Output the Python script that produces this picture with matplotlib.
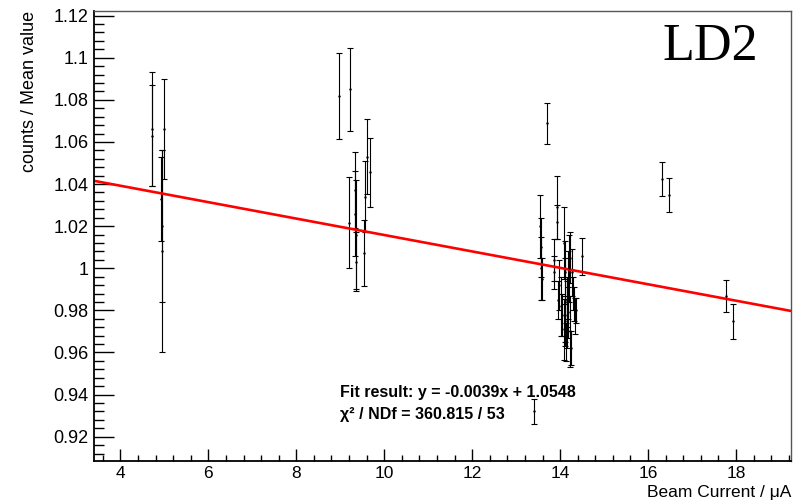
import numpy as np
import matplotlib
matplotlib.use('Agg')
import matplotlib.pyplot as plt
from matplotlib.ticker import MultipleLocator

# beam current (uA), normalised counts and errors
beam_current = [4.72, 4.72, 4.99, 4.94, 4.94, 4.93,
                8.97, 9.23, 9.20, 9.34, 9.36, 9.35, 9.33, 9.54, 9.60, 9.57, 9.68,
                13.41, 13.55, 13.56, 13.57, 13.58, 13.70, 13.85, 13.87, 13.93, 13.93,
                13.96, 13.98, 14.03, 14.05, 14.08, 14.09, 14.10, 14.11, 14.12, 14.13,
                14.15, 14.16, 14.18, 14.19, 14.21, 14.23, 14.23, 14.25, 14.27, 14.29,
                14.31, 14.33, 14.36, 14.49,
                16.31, 16.48, 17.77, 17.92]
ratio = [1.066, 1.063, 1.066, 1.020, 1.008, 1.033,
         1.082, 1.085, 1.0217, 1.037, 1.016, 1.003, 1.026, 1.0073, 1.053, 1.034, 1.0455,
         0.932, 1.020, 1.010, 1.000, 0.995, 1.0688, 1.004, 0.998, 1.029, 1.022,
         0.985, 0.992, 0.982, 0.978, 0.971, 1.012, 0.998, 0.985, 0.975, 0.965,
         0.984, 0.978, 0.992, 0.979, 1.000, 1.005, 0.970, 0.962, 0.998, 0.988,
         0.983, 0.9775, 0.980, 1.0057,
         1.0425, 1.0347, 0.9868, 0.9748]
ratio_err = [0.027, 0.024, 0.0238, 0.036, 0.048, 0.020,
             0.0204, 0.0196, 0.0217, 0.018, 0.026, 0.014, 0.020, 0.0157, 0.0177, 0.017, 0.0165,
             0.006, 0.015, 0.014, 0.015, 0.010, 0.0097, 0.010, 0.008, 0.015, 0.008,
             0.009, 0.012, 0.014, 0.010, 0.0145, 0.017, 0.015, 0.020, 0.012, 0.009,
             0.012, 0.016, 0.016, 0.012, 0.016, 0.012, 0.017, 0.008, 0.011, 0.008,
             0.008, 0.0085, 0.006, 0.0089,
             0.008, 0.0082, 0.0077, 0.0083]

fit_slope = -0.0039
fit_intercept = 1.0548
chi2 = 360.815
ndf = 53

x_range = (3.40, 19.25)
y_range = (0.9086, 1.1222)

plt.rcParams['font.family'] = ['Liberation Sans', 'DejaVu Sans']

W, H = 794, 501
fig = plt.figure(figsize=(W / 100, H / 100), dpi=100)
ax = fig.add_axes([94 / W, 1 - 460.7 / H, (791 - 94) / W, (460.7 - 11) / H])

ax.errorbar(beam_current, ratio, yerr=ratio_err, fmt='.', ms=1.5, color='black',
            ecolor='black', elinewidth=0.8, capsize=2, capthick=0.8)

xf = np.array(x_range)
ax.plot(xf, fit_slope * xf + fit_intercept, color='#ff0000', lw=1.9)

ax.set_xlim(*x_range)
ax.set_ylim(*y_range)

ax.xaxis.set_major_locator(MultipleLocator(2))
ax.xaxis.set_minor_locator(MultipleLocator(0.4))
ax.yaxis.set_major_locator(MultipleLocator(0.02))
ax.yaxis.set_minor_locator(MultipleLocator(0.004))
ax.tick_params(axis='x', which='major', direction='in', length=8.6, width=1.0, labelsize=12.5, pad=4)
ax.tick_params(axis='x', which='minor', direction='in', length=4.3, width=1.0)
ax.tick_params(axis='y', which='major', direction='in', length=14.4, width=1.0, labelsize=13, pad=4)
ax.tick_params(axis='y', which='minor', direction='in', length=7.2, width=1.0)
ax.yaxis.set_major_formatter(plt.FuncFormatter(lambda v, p: ('%.2f' % v).rstrip('0').rstrip('.')))

for s in ['top', 'right']:
    ax.spines[s].set_color('#555555')
    ax.spines[s].set_linewidth(1.0)
for s in ['left', 'bottom']:
    ax.spines[s].set_linewidth(1.3)

fig.text(30 / W, 1 - 11 / H, 'counts / Mean value', rotation=90, ha='center', va='top', fontsize=13)
fig.text(791 / W, 1 / H, 'Beam Current / \u03bcA', ha='right', va='bottom', fontsize=12.5)

fig.text(340 / W, 1 - 393 / H, 'Fit result: y = %.4fx + %.4f' % (fit_slope, fit_intercept),
         ha='left', va='center', fontsize=11.5, fontweight='bold')
fig.text(340 / W, 1 - 414 / H, '\u03c7\u00b2 / NDf = %.3f / %d' % (chi2, ndf),
         ha='left', va='center', fontsize=11.5, fontweight='bold')

fig.text(710 / W, 1 - 47 / H, 'LD2', ha='center', va='center', fontsize=37.5,
         family=['Liberation Serif', 'DejaVu Serif'])

fig.savefig('out.png', dpi=100)
